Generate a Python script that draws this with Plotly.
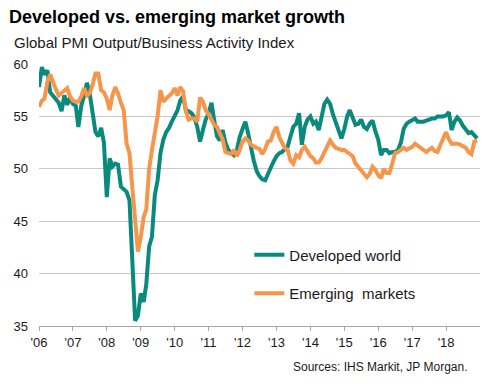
import pandas as pd
import plotly.graph_objects as go

# Monthly data, Jan 2006 - Dec 2018
months = pd.date_range("2006-01-01", "2018-12-01", freq="MS")

developed = [
    # 2006
    57.8, 59.7, 59.0, 59.4, 57.3, 57.0, 56.6, 56.3, 55.5, 57.0, 56.1, 56.8,
    # 2007
    56.2, 56.0, 54.0, 56.0, 57.0, 58.2, 57.2, 55.6, 53.5, 53.1, 53.9, 52.5,
    # 2008
    47.3, 51.0, 50.2, 50.5, 50.4, 48.3, 48.0, 47.8, 47.0, 41.5, 35.5, 36.0,
    # 2009
    38.1, 37.3, 39.0, 42.6, 43.5, 47.5, 48.9, 51.5, 52.8, 53.5, 53.9, 54.5,
    # 2010
    55.0, 55.6, 56.5, 56.9, 55.6, 55.5, 55.3, 54.9, 54.0, 52.6, 53.7, 54.7,
    # 2011
    55.3, 56.3, 54.7, 53.1, 52.7, 53.7, 52.5, 51.8, 51.5, 51.3, 51.8, 53.0,
    # 2012
    53.8, 54.5, 53.4, 52.0, 50.8, 49.8, 49.3, 49.0, 48.9, 49.5, 50.2, 50.7,
    # 2013
    51.2, 51.5, 51.6, 51.8, 52.1, 53.1, 54.0, 54.3, 55.3, 52.3, 54.0, 54.7,
    # 2014
    55.0, 54.3, 54.5, 53.7, 55.0, 56.2, 56.6, 56.2, 55.2, 54.5, 53.6, 52.9,
    # 2015
    53.8, 55.0, 55.6, 55.0, 54.2, 54.3, 54.7, 54.0, 53.8, 54.3, 54.6, 53.6,
    # 2016
    52.8, 51.3, 51.8, 51.8, 51.5, 51.6, 51.6, 51.8, 52.5, 53.8, 54.3, 54.5,
    # 2017
    54.6, 54.8, 54.5, 54.5, 54.5, 54.6, 54.7, 54.8, 54.8, 55.0, 55.0, 55.0,
    # 2018
    55.1, 55.4, 53.7, 54.5, 54.9, 54.6, 54.1, 53.8, 53.4, 53.5, 53.2, 52.9,
]

emerging = [
    # 2006
    55.9, 56.5, 56.7, 58.3, 59.0, 58.2, 57.6, 57.0, 57.2, 57.5, 57.7, 56.9,
    # 2007
    56.5, 56.4, 56.4, 56.9, 57.7, 57.0, 57.2, 58.0, 59.1, 59.1, 57.5, 57.3,
    # 2008
    56.7, 55.6, 57.0, 57.8, 57.2, 56.3, 55.6, 52.4, 51.5, 48.3, 45.0, 42.1,
    # 2009
    43.5, 45.4, 46.1, 50.0, 51.8, 53.4, 55.0, 57.5, 56.4, 56.7, 57.0, 57.2,
    # 2010
    57.7, 57.0, 57.8, 57.4, 55.5, 54.7, 54.8, 54.8, 54.5, 56.8, 56.4, 55.6,
    # 2011
    55.2, 54.7, 54.2, 54.0, 53.5, 52.8, 51.6, 51.5, 51.4, 51.8, 51.2, 51.8,
    # 2012
    52.6, 52.9, 52.7, 52.3, 52.1, 52.0, 51.9, 51.4, 51.9, 52.6, 52.7, 53.5,
    # 2013
    54.0, 53.0, 52.5, 52.0, 51.8, 50.8, 50.5, 51.3, 51.1, 51.8, 52.1, 51.6,
    # 2014
    51.2, 51.0, 50.6, 50.6, 51.0, 51.6, 52.2, 52.7, 52.3, 52.0, 51.9, 51.8,
    # 2015
    51.8, 51.6, 51.5, 51.2, 50.5, 50.2, 49.9, 49.6, 49.2, 49.5, 50.2, 49.9,
    # 2016
    49.4, 49.1, 50.0, 49.6, 49.6, 50.5, 51.5, 51.6, 51.8, 52.0, 51.8, 51.9,
    # 2017
    52.1, 52.4, 52.2, 52.1, 51.8, 51.6, 51.8, 52.0, 51.7, 51.6, 52.3, 52.9,
    # 2018
    53.5, 52.8, 52.4, 52.4, 52.4, 52.3, 52.2, 52.0, 51.6, 51.4, 52.6, 52.7,
]

year_ticks = [f"{y}-01-01" for y in range(2006, 2019)]
year_labels = ["'06", "'07", "'08", "'09", "'10", "'11", "'12",
               "'13", "'14", "'15", "'16", "'17", "'18"]
y_ticks = [35, 40, 45, 50, 55, 60]

TEAL = "#0a8a7d"
ORANGE = "#f7964a"
FONT = "Arial, Liberation Sans, sans-serif"

PL, PR, PT, PB = 39, 480, 64, 326  # plot area in pixels
PW, PH = PR - PL, PB - PT


def px_x(x):
    return (x - PL) / PW


def px_y(y):
    return (PB - y) / PH


fig = go.Figure()
fig.add_trace(go.Scatter(x=months, y=developed, mode="lines", name="Developed world",
                         legendgroup="d", line=dict(color=TEAL, width=4)))
fig.add_trace(go.Scatter(x=months, y=emerging, mode="lines", name="Emerging\u00a0 markets",
                         legendgroup="e", line=dict(color=ORANGE, width=4)))

fig.update_layout(
    width=500, height=389,
    margin=dict(l=PL, r=500 - PR, t=PT, b=389 - PB, autoexpand=False),
    paper_bgcolor="white", plot_bgcolor="white",
    font=dict(family=FONT, color="#1a1a1a"),
    showlegend=True,
    legend=dict(x=0.477, y=0.334, xanchor="left", yanchor="top",
                bgcolor="rgba(255,255,255,0)", font=dict(size=15, color="#1a1a1a"),
                tracegroupgap=16, itemclick=False),
    xaxis=dict(type="date", range=["2006-01-01", "2019-01-01"], automargin=False,
               tickmode="array", tickvals=year_ticks, ticktext=year_labels,
               showgrid=False, showline=True, linecolor="#a6a6a6", linewidth=1,
               ticks="outside", ticklen=4, tickcolor="#a6a6a6",
               tickfont=dict(size=13, color="#1a1a1a"), zeroline=False),
    yaxis=dict(range=[35, 60], tickmode="array", tickvals=y_ticks, automargin=False,
               showgrid=True, gridcolor="#c8c8c8", gridwidth=1,
               showline=False, zeroline=False, ticks="",
               ticklabelstandoff=10,
               tickfont=dict(size=13, color="#1a1a1a")),
    annotations=[
        dict(text="<b>Developed vs. emerging market growth</b>", xref="paper", yref="paper",
             x=px_x(7), y=px_y(17), xanchor="left", yanchor="middle",
             showarrow=False, font=dict(size=18, color="#000000", family=FONT)),
        dict(text="Global PMI Output/Business Activity Index", xref="paper", yref="paper",
             x=px_x(12), y=px_y(43), xanchor="left", yanchor="middle",
             showarrow=False, font=dict(size=15, color="#1a1a1a", family=FONT)),
        dict(text="Sources: IHS Markit, JP Morgan.", xref="paper", yref="paper",
             x=px_x(470), y=px_y(367), xanchor="right", yanchor="middle",
             showarrow=False, font=dict(size=12, color="#1a1a1a", family=FONT)),
    ],
)

fig.write_html("out.html", config={"displayModeBar": False},
               post_script="document.body.style.margin='0px';")
